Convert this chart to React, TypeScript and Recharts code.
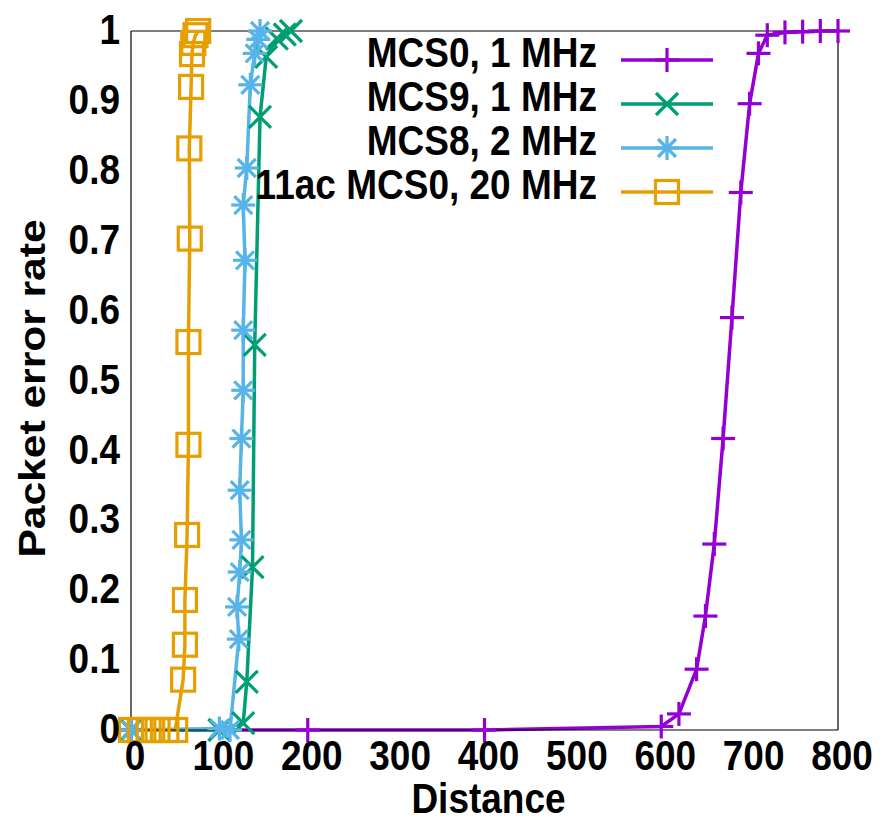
import { LineChart, Line, XAxis, YAxis, Legend } from "recharts";

/* ---------- data ---------- */
const mcs0Dist = [0, 200, 400, 600, 620, 640, 650, 660, 670, 680, 690, 700, 710, 720, 740, 760, 780, 800];
const mcs0Per = [0, 0, 0, 0.005, 0.023, 0.087, 0.163, 0.266, 0.417, 0.59, 0.769, 0.896, 0.968, 0.994, 0.998, 0.999, 1, 1];

const mcs9Dist = [0, 100, 127, 131, 137.5, 140, 146, 153, 165, 174, 181];
const mcs9Per = [0, 0, 0.01, 0.069, 0.233, 0.551, 0.877, 0.963, 0.989, 0.995, 1];

const mcs8Dist = [0, 100, 112, 122, 120, 123, 125, 123, 125, 127, 127, 129, 127, 131, 135, 140, 144, 146];
const mcs8Per = [0, 0.002, 0, 0.13, 0.176, 0.226, 0.272, 0.343, 0.417, 0.486, 0.572, 0.672, 0.751, 0.804, 0.923, 0.968, 0.988, 1];

const acDist = [0, 10, 20, 30, 40, 50, 59, 61, 61, 63.5, 65, 65, 66.5, 66, 68, 69, 70.5, 73, 76];
const acPer = [0, 0, 0, 0, 0, 0, 0.072, 0.122, 0.186, 0.279, 0.408, 0.555, 0.703, 0.832, 0.92, 0.967, 0.983, 0.994, 1];

const xTicks = [0, 100, 200, 300, 400, 500, 600, 700, 800];
const yTicks = [0, 0.1, 0.2, 0.3, 0.4, 0.5, 0.6, 0.7, 0.8, 0.9, 1];

const seriesNames = ["MCS0, 1 MHz", "MCS9, 1 MHz", "MCS8, 2 MHz", "11ac MCS0, 20 MHz"];
const seriesColors = ["#9400d3", "#009e73", "#56b4e9", "#e69f00"];
const seriesMarkers = ["plus", "cross", "star", "square"];
const seriesDist = [mcs0Dist, mcs9Dist, mcs8Dist, acDist];
const seriesPer = [mcs0Per, mcs9Per, mcs8Per, acPer];

const FONT = '"Liberation Sans", Arial, Helvetica, sans-serif';
const FS = 37;
const STRETCH = 1.15; // text in the picture is a bit taller than wide

function Marker({ kind, cx, cy, color }: { kind: string; cx: number; cy: number; color: string }) {
  const sw = 3.2;
  if (cx == null || cy == null) return null;
  if (kind === "square")
    return (
      <rect x={cx - 11.5} y={cy - 11.5} width={23} height={23} fill="none" stroke={color} strokeWidth={sw} />
    );
  const r = 12;
  const d = kind === "cross" ? 11 : 9;
  return (
    <g stroke={color} strokeWidth={sw}>
      {kind !== "cross" && (
        <>
          <line x1={cx - r} y1={cy} x2={cx + r} y2={cy} />
          <line x1={cx} y1={cy - r} x2={cx} y2={cy + r} />
        </>
      )}
      {kind !== "plus" && (
        <>
          <line x1={cx - d} y1={cy - d} x2={cx + d} y2={cy + d} />
          <line x1={cx - d} y1={cy + d} x2={cx + d} y2={cy - d} />
        </>
      )}
    </g>
  );
}

function XTick({ x, y, payload }: any) {
  return (
    <g transform={`translate(${x + 4},${y}) scale(1,${STRETCH})`}>
      <text textAnchor="middle" dy="0.716em" fontFamily={FONT} fontWeight="bold" fontSize={FS} fill="#000">
        {payload.value}
      </text>
    </g>
  );
}

function YTick({ x, y, payload }: any) {
  return (
    <g transform={`translate(${x},${y - 2}) scale(1,${STRETCH})`}>
      <text textAnchor="end" dy="0.355em" fontFamily={FONT} fontWeight="bold" fontSize={FS} fill="#000">
        {String(payload.value)}
      </text>
    </g>
  );
}

function XLabel({ viewBox }: any) {
  const vb = viewBox || { x: 123, y: 722, width: 707, height: 85 };
  return (
    <g transform={`translate(${vb.x + vb.width / 2 + 4},${vb.y + vb.height - 2}) scale(1,${STRETCH})`}>
      <text textAnchor="middle" fontFamily={FONT} fontWeight="bold" fontSize={FS} fill="#000">
        Distance
      </text>
    </g>
  );
}

function YLabel({ viewBox }: any) {
  const vb = viewBox || { x: 53, y: 23, width: 70, height: 699 };
  return (
    <g transform={`translate(${vb.x - 16},${vb.y + vb.height / 2 + 8}) scale(1,${STRETCH}) rotate(-90)`}>
      <text textAnchor="middle" fontFamily={FONT} fontWeight="bold" fontSize={FS} fill="#000">
        Packet error rate
      </text>
    </g>
  );
}

function LegendBox() {
  return (
    <div style={{ fontFamily: FONT, fontWeight: "bold", fontSize: FS, color: "#000" }}>
      {seriesNames.map((n, i) => (
        <div key={n} style={{ display: "flex", alignItems: "center", height: 44 }}>
          <span
            style={{
              display: "inline-block",
              width: 397,
              textAlign: "right",
              whiteSpace: "nowrap",
              lineHeight: "44px",
              transform: `translateY(-7px) scaleY(${STRETCH})`,
            }}
          >
            {n}
          </span>
          <svg width={94} height={44} style={{ marginLeft: 23, overflow: "visible" }}>
            <line x1={1} y1={22} x2={93} y2={22} stroke={seriesColors[i]} strokeWidth={3.5} />
            <Marker kind={seriesMarkers[i]} cx={47} cy={22} color={seriesColors[i]} />
          </svg>
        </div>
      ))}
    </div>
  );
}

export default function App() {
  const series = seriesNames.map((name, i) => ({
    name,
    color: seriesColors[i],
    marker: seriesMarkers[i],
    data: seriesDist[i].map((d, j) => ({ d, per: seriesPer[i][j] })),
  }));

  return (
    <LineChart width={883} height={811} margin={{ top: 23, right: 53, bottom: 4, left: 53 }}>
      {/* axes with labels */}
      <XAxis
        xAxisId="x"
        type="number"
        dataKey="d"
        domain={[0, 800]}
        ticks={xTicks}
        height={85}
        tickLine={false}
        tickSize={0}
        tickMargin={10}
        tick={<XTick />}
        axisLine={{ stroke: "#000", strokeWidth: 1.2 }}
        label={<XLabel />}
      />
      <YAxis
        yAxisId="y"
        type="number"
        domain={[0, 1]}
        ticks={yTicks}
        width={70}
        tickLine={false}
        tickSize={0}
        tickMargin={11}
        tick={<YTick />}
        axisLine={{ stroke: "#000", strokeWidth: 1.2 }}
        label={<YLabel />}
      />
      {/* inward ticks + box, gnuplot style */}
      <XAxis xAxisId="xb" type="number" domain={[0, 800]} allowDataOverflow ticks={xTicks} mirror tick={false}
        tickSize={8} tickLine={{ stroke: "#000" }} axisLine={false} />
      <XAxis xAxisId="xt" orientation="top" type="number" domain={[0, 800]} allowDataOverflow ticks={xTicks} mirror
        tick={false} tickSize={8} tickLine={{ stroke: "#000" }} axisLine={{ stroke: "#000", strokeWidth: 1.2 }} />
      <YAxis yAxisId="yl" type="number" domain={[0, 1]} allowDataOverflow ticks={yTicks} mirror tick={false}
        tickSize={8} tickLine={{ stroke: "#000" }} axisLine={false} />
      <YAxis yAxisId="yr" orientation="right" type="number" domain={[0, 1]} allowDataOverflow ticks={yTicks} mirror
        tick={false} tickSize={8} tickLine={{ stroke: "#000" }} axisLine={{ stroke: "#000", strokeWidth: 1.2 }} />

      <Legend
        layout="vertical"
        align="center"
        verticalAlign="middle"
        wrapperStyle={{ top: 30, left: 192, width: 540 }}
        content={() => <LegendBox />}
      />

      {series.map((s) => (
        <Line
          key={s.name}
          name={s.name}
          xAxisId="x"
          yAxisId="y"
          data={s.data}
          dataKey="per"
          type="linear"
          stroke={s.color}
          strokeWidth={3.5}
          isAnimationActive={false}
          activeDot={false}
          dot={(p: any) => (
            <Marker key={`${s.name}-${p.index}`} kind={s.marker} cx={p.cx} cy={p.cy} color={s.color} />
          )}
        />
      ))}
    </LineChart>
  );
}
